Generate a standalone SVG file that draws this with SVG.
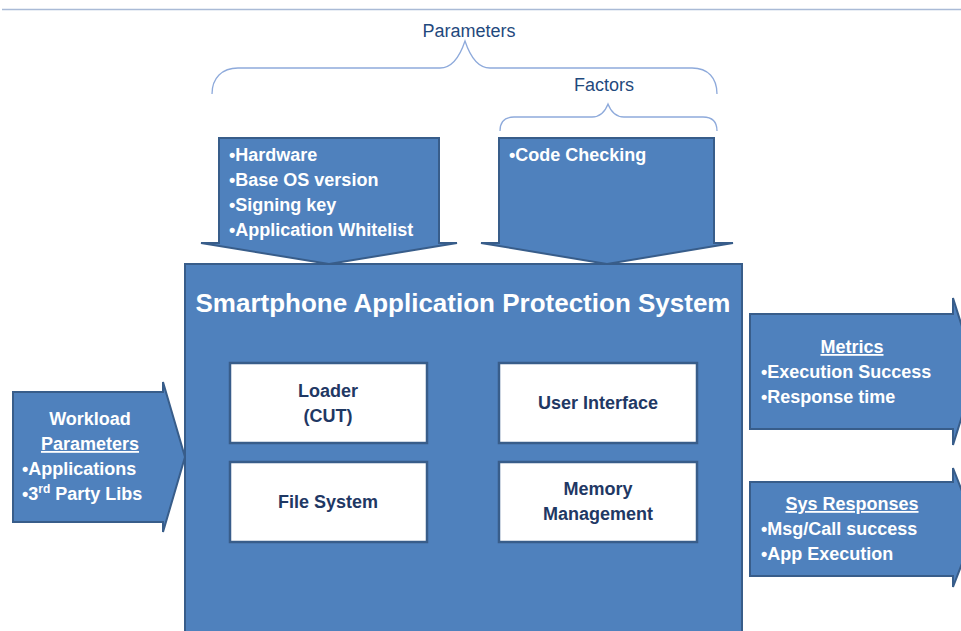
<svg xmlns="http://www.w3.org/2000/svg" width="961" height="631" viewBox="0 0 961 631">
<style>
.shape{fill:#4f81bd;stroke:#385d8a;stroke-width:2;stroke-linejoin:miter}
.inner{fill:#ffffff;stroke:#385d8a;stroke-width:2.5}
.brace{fill:none;stroke:#8eaadb;stroke-width:1.3}
.lbl{font-family:"Liberation Sans",Arial,sans-serif;font-size:18px;fill:#1f497d}
.wt{font-family:"Liberation Sans",Arial,sans-serif;font-size:18px;font-weight:bold;fill:#ffffff}
.bt{font-family:"Liberation Sans",Arial,sans-serif;font-size:18px;font-weight:bold;fill:#1f3864;text-anchor:middle}
.ul{text-decoration:underline}
</style>
<rect width="961" height="631" fill="#ffffff"/>
<line x1="2" y1="9.5" x2="961" y2="9.5" stroke="#a9bad6" stroke-width="1.5"/>

<g id="connectors">
  <path class="brace" d="M212,94 C212,78 222,68 238,68 L440,68 C452,68 460,56 465,41 C470,56 478,68 490,68 L692,68 C708,68 717,78 717,94"/>
  <path class="brace" d="M500,131 C500,122 505,117 514,117 L592,117 C600,117 605,112 608,104 C611,112 616,117 624,117 L703,117 C712,117 717,122 717,131"/>
</g>

<g id="parameters-label">
  <text class="lbl" x="469" y="37" text-anchor="middle">Parameters</text>
</g>
<g id="factors-label">
  <text class="lbl" x="604" y="91" text-anchor="middle">Factors</text>
</g>

<g id="main-system">
  <rect class="shape" x="185" y="264" width="557" height="380"/>
  <text class="wt" x="463" y="312" text-anchor="middle" style="font-size:26px">Smartphone Application Protection System</text>
</g>

<g id="params-arrow">
  <polygon class="shape" points="219,138 439,138 439,243 457,243 329,264 201,243 219,243"/>
  <text class="wt" x="229" y="161">•Hardware</text>
  <text class="wt" x="229" y="186">•Base OS version</text>
  <text class="wt" x="229" y="211">•Signing key</text>
  <text class="wt" x="229" y="236">•Application Whitelist</text>
</g>

<g id="factors-arrow">
  <polygon class="shape" points="499,138 714,138 714,243 733,243 607,264 481,243 499,243"/>
  <text class="wt" x="509" y="161">•Code Checking</text>
</g>

<g id="loader">
  <rect class="inner" x="230" y="363" width="197" height="80"/>
  <text class="bt" x="328" y="397">Loader</text>
  <text class="bt" x="328" y="422">(CUT)</text>
</g>
<g id="user-interface">
  <rect class="inner" x="499" y="363" width="198" height="80"/>
  <text class="bt" x="598" y="409">User Interface</text>
</g>
<g id="file-system">
  <rect class="inner" x="230" y="462" width="197" height="80"/>
  <text class="bt" x="328" y="508">File System</text>
</g>
<g id="memory-management">
  <rect class="inner" x="499" y="462" width="198" height="80"/>
  <text class="bt" x="598" y="495">Memory</text>
  <text class="bt" x="598" y="520">Management</text>
</g>

<g id="workload-arrow">
  <polygon class="shape" points="13,392 163,392 163,382 185,457 163,532 163,522 13,522"/>
  <text class="wt" x="90" y="425" text-anchor="middle">Workload</text>
  <text class="wt ul" x="90" y="450" text-anchor="middle">Parameters</text>
  <text class="wt" x="22" y="475">•Applications</text>
  <text class="wt" x="22" y="500">•3<tspan style="font-size:12px" dy="-7">rd</tspan><tspan dy="7"> Party Libs</tspan></text>
</g>

<g id="metrics-arrow">
  <polygon class="shape" points="750,314 953,314 953,298 976,371 953,445 953,429 750,429"/>
  <text class="wt ul" x="852" y="353" text-anchor="middle">Metrics</text>
  <text class="wt" x="761" y="378">•Execution Success</text>
  <text class="wt" x="761" y="403">•Response time</text>
</g>

<g id="responses-arrow">
  <polygon class="shape" points="750,482 953,482 953,468 976,527 953,587 953,576 750,576"/>
  <text class="wt ul" x="852" y="510" text-anchor="middle">Sys Responses</text>
  <text class="wt" x="761" y="535">•Msg/Call success</text>
  <text class="wt" x="761" y="560">•App Execution</text>
</g>
</svg>
